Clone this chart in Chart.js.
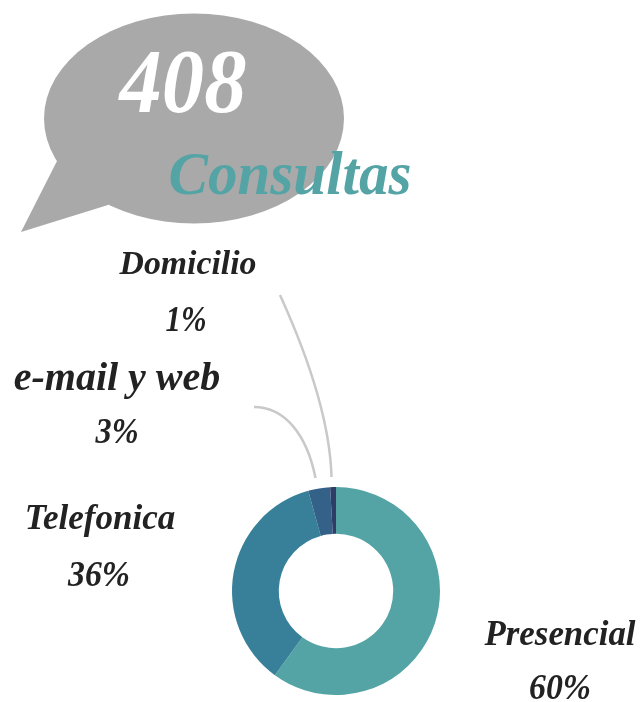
<!DOCTYPE html>
<html><head><meta charset="utf-8">
<script src="https://cdn.jsdelivr.net/npm/chart.js@4"></script>
<style>html,body{margin:0;padding:0;background:#fff}#w{position:relative;width:641px;height:702px;overflow:hidden}canvas{position:absolute;left:0;top:0}</style>
</head><body><div id="w"><canvas id="c" width="641" height="702"></canvas></div>
<script>
const categories = ["Presencial","Telefonica","e-mail y web","Domicilio"];
const values = [60,35.7,3.4,0.9];
const percentLabels = ["60%","36%","3%","1%"];
const colors = ["#54a4a6","#38809a","#336188","#2e3c66"];
const total = "408";
const heading = "Consultas";
const f = s => "italic 700 "+s+"px 'Liberation Serif'";
const overlay = {
  id:"overlay",
  beforeDatasetsDraw(ch){
    const x = ch.ctx;
    const put = (t,cx,cy,w,size) => { x.font=f(size); x.fillText(t,cx,cy,w); };
    x.save();
    x.fillStyle="#a9a9a9";
    x.beginPath(); x.ellipse(194,118.5,150,105,0,0,Math.PI*2); x.fill();
    x.beginPath(); x.moveTo(57,161); x.lineTo(21,232); x.lineTo(108,205); x.lineTo(140,150); x.closePath(); x.fill();
    x.strokeStyle="#c9c9c9"; x.lineWidth=2.5;
    x.beginPath(); x.moveTo(280,295); x.bezierCurveTo(305,350,330,420,331.5,477); x.stroke();
    x.beginPath(); x.moveTo(254,407); x.bezierCurveTo(285,407,307,435,315.5,478); x.stroke();
    x.textAlign="center"; x.textBaseline="middle";
    x.fillStyle="#ffffff"; put(total,183,88,127,92);
    x.fillStyle="#54a4a6"; put(heading,290,178,243,62);
    x.fillStyle="#222222";
    put(categories[3],188,265,137,34); put(percentLabels[3],186,322,41,36);
    put(categories[2],117,380,209,40); put(percentLabels[2],117,434,43,36);
    put(categories[1],100,520,151,35); put(percentLabels[1],99,577,62,36);
    put(categories[0],560,636,151,35); put(percentLabels[0],560,690,62,36);
    x.restore();
  }
};
new Chart(document.getElementById("c"),{
  type:"doughnut",
  data:{labels:categories,datasets:[{data:values,backgroundColor:colors,borderWidth:0}]},
  options:{responsive:false,animation:false,cutout:"55%",
    layout:{padding:{left:232,right:201,top:487,bottom:7}},
    plugins:{legend:{display:false},tooltip:{enabled:false}}},
  plugins:[overlay]
});
</script></body></html>
